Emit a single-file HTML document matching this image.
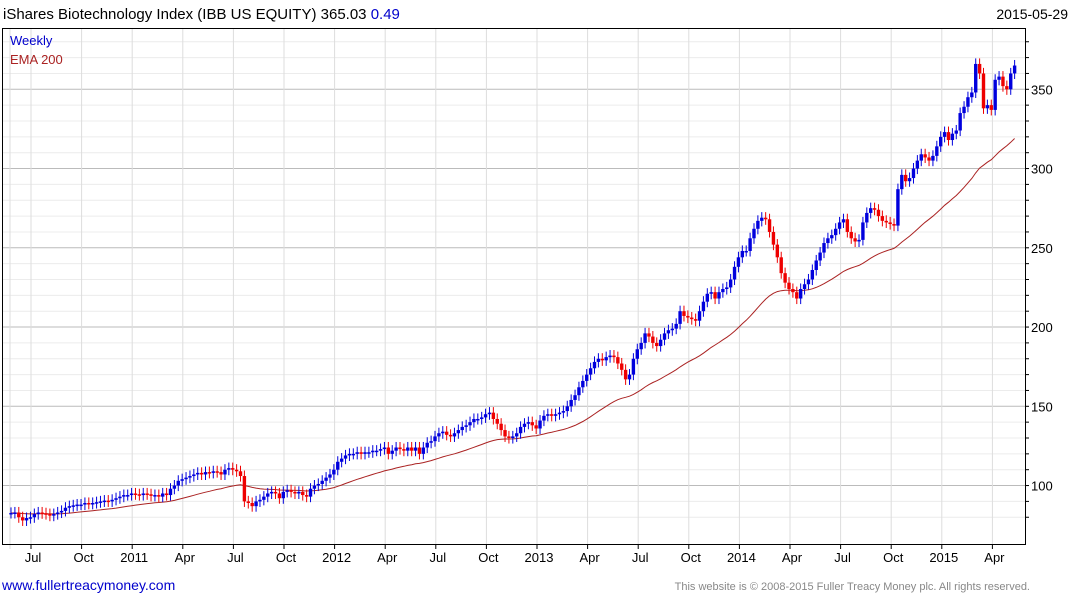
<!DOCTYPE html>
<html><head><meta charset="utf-8"><style>
body{margin:0;background:#fff;font-family:"Liberation Sans",sans-serif;}
svg text{font-family:"Liberation Sans",sans-serif;}
</style></head><body>
<svg id="chart" width="1075" height="600" xmlns="http://www.w3.org/2000/svg">
<text x="3" y="19" font-size="15" fill="#000">iShares Biotechnology Index (IBB US EQUITY) 365.03 <tspan fill="#0000cc">0.49</tspan></text>
<text x="1068" y="19" font-size="14" text-anchor="end" fill="#000">2015-05-29</text>
<g id="grid"></g>
<g id="marks"></g>
<rect x="2.5" y="28.5" width="1023" height="516" fill="none" stroke="#000" stroke-width="1"/>
<text x="10" y="45" font-size="13" fill="#0000cc">Weekly</text>
<text x="10" y="64" font-size="13" fill="#aa2222">EMA 200</text>
<text x="2" y="590" font-size="14" fill="#0000cc">www.fullertreacymoney.com</text>
<text x="1030" y="590" font-size="11" text-anchor="end" fill="#888">This website is © 2008-2015 Fuller Treacy Money plc. All rights reserved.</text>
</svg>
<script>
const closes=[82.7,83,80,78,79.5,80,82,83,82.5,82,81,82,83,
84,86,87,87.5,88,88,89,88.5,89,89.5,90,90.5,90,
91,92,93,94,94,95,94.5,94,95,94.5,93.5,94,93,
95,94,98,100,103,104,105,106,107,108,107,108.5,108,
109,108.5,107,110,111,110,109,106,90,89,87,90,91,
93,95,96,95,92,96,97,96,95,96,94,93,98,
100,101,103,105,107,110,115,117,119,120,120,121,120,
121,121,122,122,123,124,120,122,124,123,122,124,122,
124,120,124,127,128,131,133,134,132,131,133,135,137,
138,140,142,142,143,145,146,142,139,135,131,130,131,
133,137,139,140,138,136,141,144,145,144,145,146,147,
150,154,157,162,166,170,174,178,180,179,181,182,181,
177,173,167,170,180,186,190,196,194,190,188,192,196,
198,199,202,210,207,206,205,204,210,216,221,222,218,
222,224,225,230,238,244,248,248,256,262,267,269,268,
260,252,244,234,228,224,222,218,224,227,230,236,242,
247,253,256,258,262,266,268,260,256,254,255,266,272,
275,274,270,267,266,265,264,287,296,292,294,300,305,
309,307,305,308,314,320,323,318,322,324,335,339,345,
348,366,360,338,340,337,356,358,352,350,360,365];
const yTicks=[100,150,200,250,300,350];
const xLabels=["Jul","Oct","2011","Apr","Jul","Oct","2012","Apr","Jul","Oct","2013","Apr","Jul","Oct","2014","Apr","Jul","Oct","2015","Apr"];
const emaPeriod=40;

const NS="http://www.w3.org/2000/svg";
const y=v=>89.3+(350-v)*1.585;
const x=i=>11+i*3.89;
const qx=k=>31+k*50.6;
function mk(tag,attrs,parent){const e=document.createElementNS(NS,tag);for(const k in attrs)e.setAttribute(k,attrs[k]);parent.appendChild(e);return e;}
const svg=document.getElementById('chart');
const grid=document.getElementById('grid');
const marks=document.getElementById('marks');
for(let v=80;v<=380;v+=10){
  const yy=y(v); if(yy<29||yy>544)continue;
  const major=v%50===0;
  const l=mk('line',{x1:3,x2:1025,y1:yy,y2:yy,stroke:major?'#bbb':'#ececec','stroke-width':1},grid);
  
  
  const t=mk('line',{x1:1025,x2:1029,y1:yy,y2:yy,stroke:'#000'},grid);
  
  
}
yTicks.forEach(v=>{
  const t=mk('text',{x:1031,y:y(v)+5,'font-size':13,fill:'#000'},svg);
  t.textContent=v;
  
  
});
const v0=mk('line',{x1:10,x2:10,y1:29,y2:549,stroke:'#ddd'},grid);


xLabels.forEach((lab,k)=>{
  const xx=qx(k);
  const g=mk('line',{x1:xx,x2:xx,y1:29,y2:544,stroke:'#ddd'},grid);
  
  
  const tk=mk('line',{x1:xx,x2:xx,y1:544,y2:549,stroke:'#000'},svg);
  
  
  const t=mk('text',{x:xx+2,y:562,'font-size':13,'text-anchor':'middle',fill:'#000'},svg);
  t.textContent=lab;
  
  
});
let ema=closes[0],pts=[];const a=2/(emaPeriod+1);
closes.forEach((c,i)=>{ema=i?ema+a*(c-ema):c;pts.push(x(i).toFixed(1)+','+y(ema).toFixed(1));});
const pl=mk('polyline',{points:pts.join(' '),fill:'none',stroke:'#aa2222','stroke-width':1},marks);


closes.forEach((c,i)=>{
  const o=i?closes[i-1]:c;
  const up=c>=o;const col=up?'#0000dd':'#ee0000';
  const hi=Math.max(o,c)+3.5,lo=Math.min(o,c)-3.5;
  const xx=x(i);
  const w=mk('line',{x1:xx,x2:xx,y1:y(hi),y2:y(lo),stroke:col,'stroke-width':1},marks);
  
  
  const top=y(Math.max(o,c)),bh=Math.max(1.5,y(Math.min(o,c))-top);
  const r=mk('rect',{x:xx-1.7,y:top,width:3.4,height:bh,fill:col},marks);
  
  
});
</script>
</body></html>
